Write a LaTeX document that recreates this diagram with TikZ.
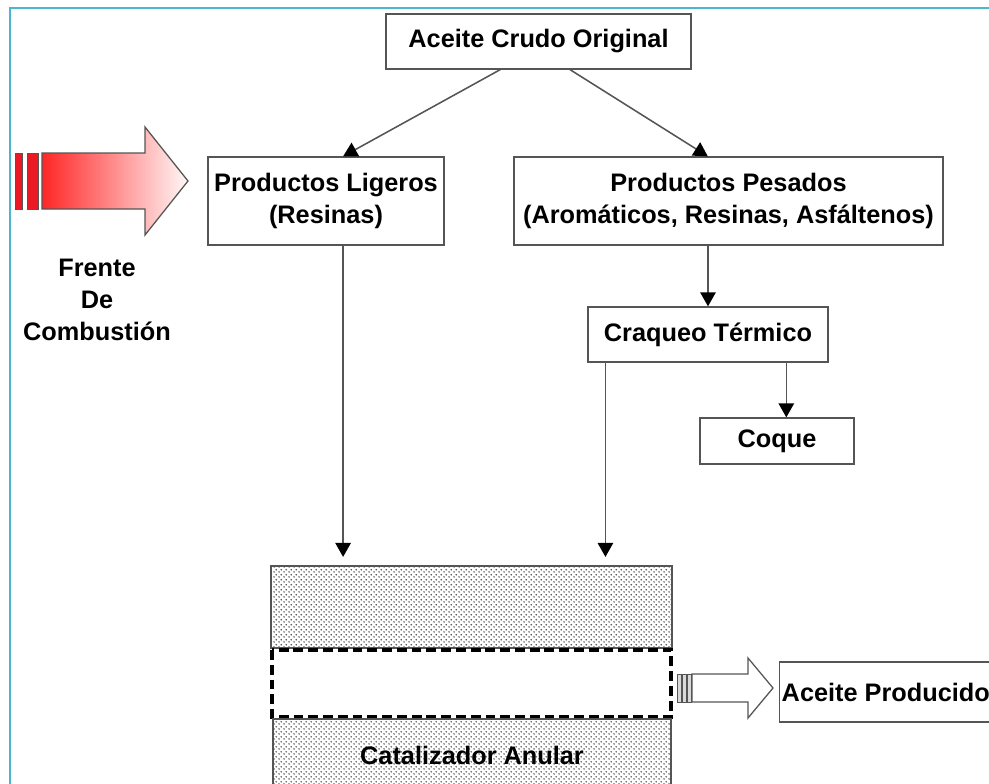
\documentclass[tikz,border=0pt]{standalone}
\usepackage{fontspec}
\setmainfont{Liberation Sans}
\usepackage{tikz}
\usetikzlibrary{arrows.meta}
\usetikzlibrary{calc}
\usetikzlibrary{patterns}
\definecolor{mcyan}{RGB}{75,182,206}
\definecolor{mgris}{RGB}{85,85,85}
\definecolor{mred}{RGB}{235,25,35}
\pgfdeclarepatternformonly{puntos}{\pgfpoint{0pt}{0pt}}{\pgfpoint{3.6pt}{3.6pt}}{\pgfpoint{3.6pt}{3.6pt}}
{
  \pgfpathcircle{\pgfpoint{0.9pt}{0.9pt}}{0.7pt}
  \pgfpathcircle{\pgfpoint{2.7pt}{2.7pt}}{0.7pt}
  \pgfusepath{fill}
}
\tikzset{caja/.style = {draw=mgris, line width=0.9pt, fill=white, rectangle,
                        align=center, inner sep=0pt},
         flecha/.style = {draw=mgris, line width=1.1pt,
                          -{Triangle[length=10pt, width=11pt, color=black]}},
         lecho/.style = {draw=mgris, line width=0.9pt, pattern=puntos,
                         pattern color=black!70}}

\begin{document}
\begin{tikzpicture}[x=0.025cm, y=-0.025cm, font=\fontsize{18}{23}\selectfont\bfseries]
    \useasboundingbox (0, 0) rectangle (989, 784);
    \clip (0, 0) rectangle (989, 784);
    \draw [mcyan, line width=1.6pt] (989, 8) -- (10, 8) -- (10, 790);

    % cajas
    \node [caja, minimum width=7.625cm, minimum height=1.375cm] (crudo) at (538.5, 41.5) {Aceite Crudo Original};
    \node [caja, minimum width=5.9cm, minimum height=2.2cm] (ligeros) at (326, 201) {Productos Ligeros\\(Resinas)};
    \node [caja, minimum width=10.725cm, minimum height=2.2cm] (pesados) at (728.5, 201) {Productos Pesados\\(Arom\'aticos, Resinas, Asf\'altenos)};
    \node [caja, minimum width=6cm, minimum height=1.375cm] (craqueo) at (708, 334.5) {Craqueo T\'ermico};
    \node [caja, minimum width=3.85cm, minimum height=1.15cm] (coque) at (777, 441) {Coque};
    \node [caja, anchor=west, minimum height=1.5cm, inner xsep=1.5pt] (producido) at (779, 692) {Aceite Producido};

    % catalizador
    \node [lecho, minimum width=10.025cm, minimum height=2.05cm] (catA) at (471.5, 607) {};
    \draw [black, line width=2.2pt, dash pattern=on 7pt off 3.5pt] (272, 650) rectangle (671, 717);
    \draw [lecho] (273, 719) rectangle (671, 800);
    \node (catalizador) at (472, 755) {Catalizador Anular};

    % flechas
    \draw [flecha] ($(crudo.south west)!0.375!(crudo.south east)$) -- ($(ligeros.north west)!0.572!(ligeros.north east)$);
    \draw [flecha] ($(crudo.south west)!0.603!(crudo.south east)$) -- ($(pesados.north west)!0.452!(pesados.north east)$);
    \draw [flecha] (pesados.south -| craqueo.north) -- (craqueo.north);
    \coordinate (cq) at ($(coque.north west)!0.56!(coque.north east)$);
    \draw [flecha] (craqueo.south -| cq) -- (cq);
    \coordinate (lg) at ($(ligeros.south west)!0.572!(ligeros.south east)$);
    \draw [flecha, shorten >=6pt] (lg) -- (lg |- catA.north);
    \coordinate (cr) at ($(craqueo.south west)!0.075!(craqueo.south east)$);
    \draw [flecha, shorten >=6pt] (cr) -- (cr |- catA.north);

    % frente de combustion
    \fill [mred, draw=mgris, line width=0.6pt] (15, 153) rectangle (22, 209);
    \fill [mred, draw=mgris, line width=0.6pt] (27, 153) rectangle (38, 209);
    \draw [draw=mgris, line width=0.9pt, left color=red!85, right color=red!3]
        (42, 153) -- (145, 153) -- (145, 127) -- (188, 181) -- (145, 235) -- (145, 209) -- (42, 209) -- cycle;
    \node [align=center] (frente) at (97, 300) {Frente\\De\\Combusti\'on};

    % salida
    \foreach \x in {677, 682, 687}
        \draw [mgris, fill=black!15, line width=0.5pt] (\x, 674) rectangle (\x+4, 702);
    \draw [draw=mgris, line width=0.9pt, fill=white]
        (692, 674) -- (748, 674) -- (748, 658) -- (773, 688) -- (748, 718) -- (748, 702) -- (692, 702) -- cycle;
\end{tikzpicture}
\end{document}
